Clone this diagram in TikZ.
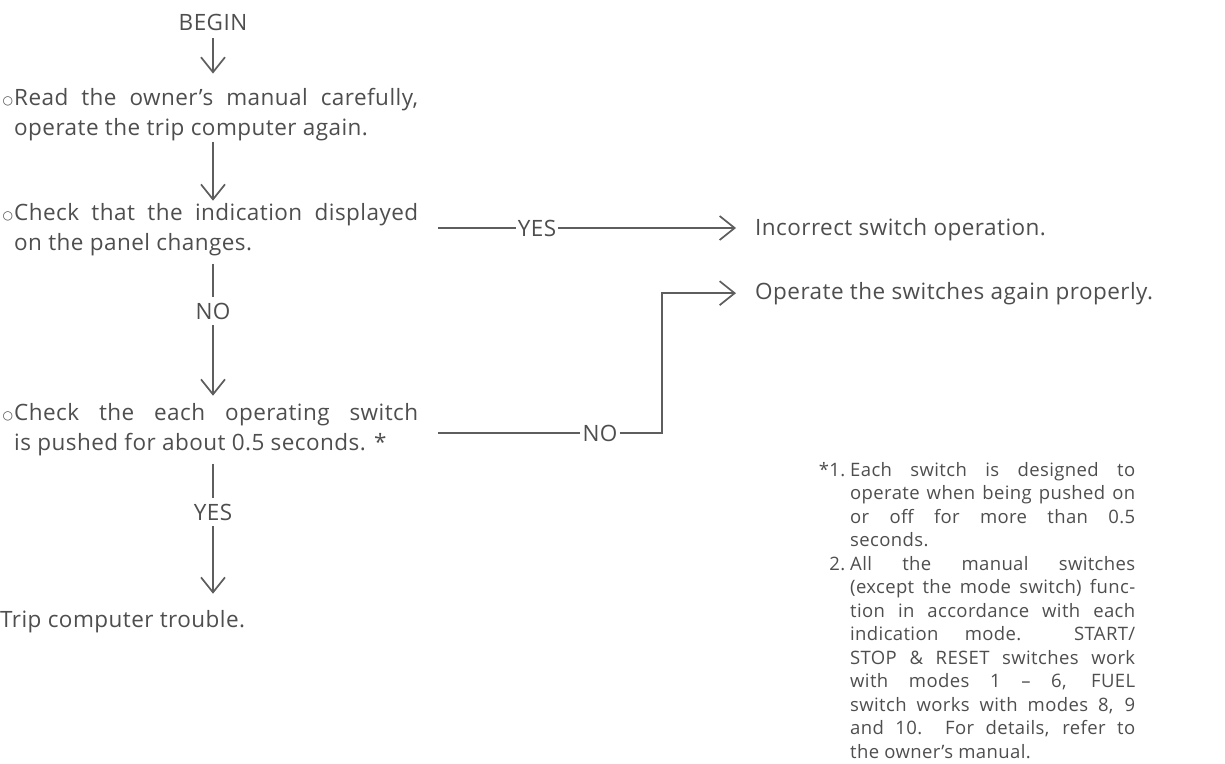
\documentclass[tikz,border=0pt]{standalone}
\usepackage{fontspec}
\setmainfont{Open Sans}[LetterSpace=2]
\newfontfamily\symfont{DejaVu Sans}
\usetikzlibrary{arrows.meta}
\definecolor{ink}{HTML}{4E4E4E}
\definecolor{rule}{HTML}{5E5E5E}
% small hollow bullet hung in the left margin
\newcommand{\hollowmark}{\llap{\raisebox{1pt}{\symfont\fontsize{12}{12}\selectfont ○}\hspace{1pt}}}
\begin{document}
\begin{tikzpicture}[x=1pt,y=-1pt,
  every node/.style={text=ink, font=\fontsize{22.5}{30}\selectfont},
  para/.style={anchor=base west, inner sep=0pt, text width=404pt, align=justify},
  plain/.style={anchor=base west, inner sep=0pt},
  tag/.style={inner xsep=2pt, inner ysep=6pt},
  ln/.style={draw=rule, line width=1.6pt},
  arr/.style={ln, -{Straight Barb[length=15pt,width=24pt,line width=1.7pt]}},
]
\useasboundingbox (0,0) rectangle (1225,763);

% left column: steps of the check
\node[tag] (begin) at (213,22) {BEGIN};
\node[para] (t1) at (14,105) {\parfillskip=0pt\hollowmark Read the owner’s manual carefully,\linebreak operate the trip computer again.};
\node[para] (t2) at (14,220) {\hollowmark Check that the indication displayed\linebreak on the panel changes.};
\node[para] (t3) at (14,420) {\parfillskip=0pt\hollowmark Check the each operating switch\linebreak is pushed for about 0.5 seconds. *};
\node[plain] (trip) at (0,627) {Trip computer trouble.};

% branch labels
\node[tag] (yes2) at (537,228) {YES};
\node[tag] (no2) at (213,311) {NO};
\node[tag] (no3) at (600,433) {NO};
\node[tag] (yes3) at (213,512) {YES};

% results on the right
\node[plain] (inc) at (755,235) {Incorrect switch operation.};
\node[plain] (op) at (755,299) {Operate the switches again properly.};

% footnotes
\node[anchor=base west, inner sep=0pt, text width=285pt, align=justify,
      font=\fontsize{18.5}{23.5}\selectfont] (notes) at (850,476) {%
\leavevmode\llap{*1.\hspace{5pt}}Each switch is designed to\linebreak
operate when being pushed on\linebreak
or off for more than 0.5\linebreak
seconds.\par
\leavevmode\llap{2.\hspace{5pt}}All the manual switches\linebreak
(except the mode switch) func-\linebreak
tion in accordance with each\linebreak
indication mode.\ \ START/\linebreak
STOP \& RESET switches work\linebreak
with modes 1 – 6, FUEL\linebreak
switch works with modes 8, 9\linebreak
and 10.\ \ For details, refer to\linebreak
the owner’s manual.};

% main flow
\draw[arr, shorten <=2pt, shorten >=14pt] (begin.south) -- (begin.south |- t1.north);
\draw[arr, shorten <=1pt, shorten >=2pt] (t1.south -| begin) -- (begin |- t2.north);
\draw[ln, shorten <=8pt] (t2.south -| no2) -- (no2.north);
\draw[arr, shorten >=7pt] (no2.south) -- (no2.south |- t3.north);
\draw[ln, shorten <=8pt] (t3.south -| yes3) -- (yes3.north);
\draw[arr, shorten >=16pt] (yes3.south) -- (yes3.south |- trip.north);

% YES branch
\draw[ln, shorten <=20pt] (yes2.west -| t2.east) -- (yes2.west);
\draw[arr, shorten >=19pt] (yes2.east) -- (yes2.east -| inc.west);

% NO branch with a jog up to the result
\coordinate (jog) at (662,433);
\draw[ln, shorten <=20pt] (no3.west -| t3.east) -- (no3.west);
\draw[arr, shorten >=19pt] (no3.east) -- (jog) |- (op.west);
\end{tikzpicture}
\end{document}
